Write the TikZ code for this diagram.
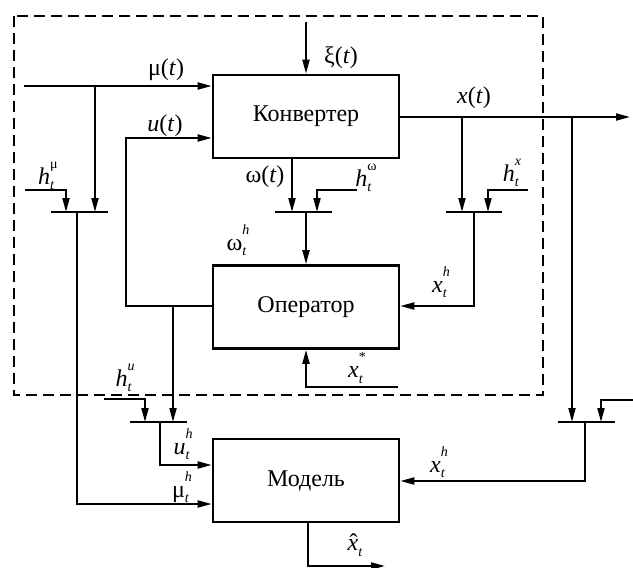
\documentclass[tikz,border=0pt]{standalone}
\usepackage{fontspec}
\setmainfont{Liberation Serif}
\usetikzlibrary{arrows.meta}
\newcommand\idx[2]{#1\makebox[0pt][l]{\raisebox{-0.5ex}{\fontsize{14}{14}\selectfont\itshape t}}\raisebox{1.45ex}{\fontsize{14}{14}\selectfont #2}}
\begin{document}
\begin{tikzpicture}[x=1pt,y=-1pt,
  blk/.style={draw,line width=2.6pt,inner sep=0pt,minimum width=186pt,minimum height=83pt,font=\fontsize{24}{24}\selectfont},
  arr/.style={line width=2pt,-{Triangle[length=14pt,width=7pt]}},
  barl/.style={line width=2pt},
  lbl/.style={inner sep=0pt,font=\fontsize{24}{24}\selectfont},
  frame/.style={line width=1.3pt,dash pattern=on 11pt off 6pt}]
\useasboundingbox (0,0) rectangle (633,568);
\draw[frame] (14,16) rectangle (543,395);
% blocks
\node[blk] (K) at (306,116.5) {Конвертер};
\node[blk] (O) at (306,307) {Оператор};
\node[blk] (M) at (306,480.5) {Модель};
% coordinates
\coordinate (xi0) at (306,22);
\coordinate (muin) at (24,86);
\coordinate (muj) at (95,86);
\coordinate (bmuL) at (51,212);
\coordinate (bmuR) at (108,212);
\coordinate (hmu0) at (25,190);
\coordinate (hmu1) at (66,190);
\coordinate (mud) at (77,212);
\coordinate (mub) at (77,504);
\coordinate (uop) at (213,306);
\coordinate (uc) at (126,306);
\coordinate (ut) at (126,138);
\coordinate (uj) at (173,306);
\coordinate (buL) at (130,422);
\coordinate (buR) at (187,422);
\coordinate (hu0) at (104,399);
\coordinate (hu1) at (145,399);
\coordinate (ud) at (160,422);
\coordinate (ub) at (160,465);
\coordinate (om0) at (292,158);
\coordinate (bomL) at (275,212);
\coordinate (bomR) at (332,212);
\coordinate (hom0) at (357,190);
\coordinate (hom1) at (317,190);
\coordinate (omd) at (306,212);
\coordinate (xend) at (630,117);
\coordinate (xj1) at (462,117);
\coordinate (bxL) at (446,212);
\coordinate (bxR) at (502,212);
\coordinate (hx0) at (528,190);
\coordinate (hx1) at (488,190);
\coordinate (xd) at (474,212);
\coordinate (xc) at (474,306);
\coordinate (xs0) at (398,387);
\coordinate (xs1) at (306,387);
\coordinate (xj2) at (572,117);
\coordinate (brL) at (558,422);
\coordinate (brR) at (615,422);
\coordinate (hr0) at (633,400);
\coordinate (hr1) at (601,400);
\coordinate (rd) at (585,422);
\coordinate (rc) at (585,481);
\coordinate (xh0) at (308,522);
\coordinate (xh1) at (308,566);
\coordinate (xh2) at (385,566);
% bars
\draw[barl] (bmuL) -- (bmuR);
\draw[barl] (buL) -- (buR);
\draw[barl] (bomL) -- (bomR);
\draw[barl] (bxL) -- (bxR);
\draw[barl] (brL) -- (brR);
% xi
\draw[arr] (xi0) -- (xi0 |- K.north);
% mu
\draw[arr] (muin) -- (muin -| K.west);
\draw[arr] (muj) -- (muj |- bmuL);
\draw[arr] (hmu0) -- (hmu1) -- (hmu1 |- bmuL);
\draw[arr] (mud) -- (mub) -- (mub -| M.west);
% u
\draw[arr] (uop) -- (uc) -- (ut) -- (ut -| K.west);
\draw[arr] (uj) -- (uj |- buL);
\draw[arr] (hu0) -- (hu1) -- (hu1 |- buL);
\draw[arr] (ud) -- (ub) -- (ub -| M.west);
% omega
\draw[arr] (om0) -- (om0 |- bomL);
\draw[arr] (hom0) -- (hom1) -- (hom1 |- bomL);
\draw[arr] (omd) -- (omd |- O.north);
% x
\draw[arr] (K.east |- xend) -- (xend);
\draw[arr] (xj1) -- (xj1 |- bxL);
\draw[arr] (hx0) -- (hx1) -- (hx1 |- bxL);
\draw[arr] (xd) -- (xc) -- (xc -| O.east);
\draw[arr] (xs0) -- (xs1) -- (xs1 |- O.south);
\draw[arr] (xj2) -- (xj2 |- brL);
\draw[arr] (hr0) -- (hr1) -- (hr1 |- brL);
\draw[arr] (rd) -- (rc) -- (rc -| M.east);
\draw[arr] (xh0) -- (xh1) -- (xh2);
% labels
\node[lbl] (lxi) at (341,58) {ξ(\textit{t})};
\node[lbl] (lmu) at (166,70) {μ(\textit{t})};
\node[lbl] (lu) at (165,126) {\textit{u}(\textit{t})};
\node[lbl] (lom) at (265,177) {ω(\textit{t})};
\node[lbl] (lx) at (474,98) {\textit{x}(\textit{t})};
\node[lbl] (lhmu) at (48,176) {\idx{\textit{h}}{μ}};
\node[lbl] (lhom) at (366,178) {\idx{\textit{h}}{ω}};
\node[lbl] (lhx) at (512,173) {\idx{\textit{h}}{\textit{x}}};
\node[lbl] (lomh) at (238,240) {\idx{ω}{\textit{h}}};
\node[lbl] (lxho) at (441,282) {\idx{\textit{x}}{\textit{h}}};
\node[lbl] (lxs) at (357,368) {\idx{\textit{x}}{*}};
\node[lbl] (lhu) at (125,378) {\idx{\textit{h}}{\textit{u}}};
\node[lbl] (luh) at (183,444) {\idx{\textit{u}}{\textit{h}}};
\node[lbl] (lmuh) at (182,487) {\idx{μ}{\textit{h}}};
\node[lbl] (lxhm) at (439,462) {\idx{\textit{x}}{\textit{h}}};
\node[lbl] (lxhat) at (353,545) {\idx{\textit{x}\llap{ˆ\hspace{0.03em}}}{}};
\end{tikzpicture}
\end{document}
